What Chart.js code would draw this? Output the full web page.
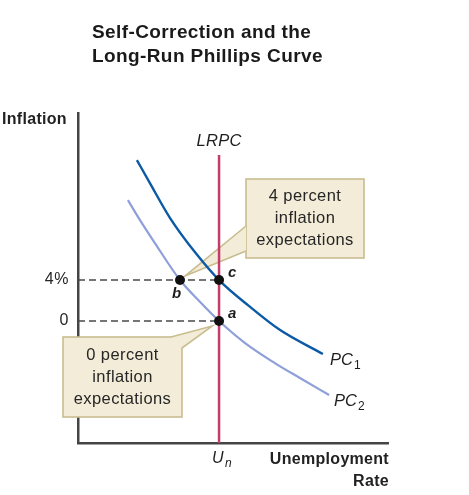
<!DOCTYPE html>
<html>
<head>
<meta charset="utf-8">
<script src="https://cdn.jsdelivr.net/npm/chart.js@4.4.1/dist/chart.umd.min.js"></script>
<style>
  html, body { margin: 0; padding: 0; background: #ffffff; }
  #wrap { position: relative; width: 469px; height: 495px; }
</style>
</head>
<body>
<div id="wrap"><canvas id="c" width="469" height="495"></canvas></div>
<script>
// ---- Data (x: unemployment rate index, y: inflation %) ----
const pc1X = [1.90, 2.32, 2.97, 3.77, 4.55, 5.52, 6.52, 7.90];
const pc1Y = [15.71, 13.46, 10.05, 6.73, 4.00, 1.46, -0.88, -3.22];
const pc2X = [1.61, 2.00, 2.48, 3.29, 3.94, 4.55, 5.39, 6.35, 7.16, 8.10];
const pc2Y = [11.80, 9.85, 7.61, 4.00, 1.85, 0.00, -2.15, -4.10, -5.56, -7.22];
const naturalRate = 4.55;          // U_n
const lrpcTop = 16.2;
const xRange = [0, 10];
const yRange = [-11.9, 20.3];
const yTickValues = [0, 4];
const yTickLabels = ['0', '4%'];
const pointNames = ['b', 'c', 'a'];
const pointX = [3.29, 4.55, 4.55];
const pointY = [4, 4, 0];
const calloutTexts = [
  ['4 percent', 'inflation', 'expectations'],
  ['0 percent', 'inflation', 'expectations']
];
const titleLines = ['Self-Correction and the', 'Long-Run Phillips Curve'];

const zip = (xs, ys) => xs.map((x, i) => ({ x, y: ys[i] }));

const FONT = '"Liberation Sans", Arial, Helvetica, sans-serif';

const annotate = {
  id: 'annotate',
  beforeDatasetsDraw(chart) {
    const ctx = chart.ctx;
    const xs = chart.scales.x, ys = chart.scales.y;
    const px = v => xs.getPixelForValue(v);
    const py = v => ys.getPixelForValue(v);
    ctx.save();
    ctx.textBaseline = 'middle';
    const boxes = [
      { r: [246, 179, 364, 258], tip: [px(pointX[0]) + 5, py(pointY[0]) - 4], base: [[246, 226], [246, 251]], text: calloutTexts[0] },
      { r: [63, 337, 182, 417], tip: [px(pointX[2]) - 7, py(pointY[2]) + 5], base: [[171, 337], [182, 348]], text: calloutTexts[1] }
    ];
    boxes.forEach(b => {
      const [x0, y0, x1, y1] = b.r;
      ctx.fillStyle = '#f3ecd8';
      ctx.strokeStyle = '#c9bd8f';
      ctx.lineWidth = 1.6;
      ctx.fillRect(x0, y0, x1 - x0, y1 - y0);
      ctx.strokeRect(x0, y0, x1 - x0, y1 - y0);
      ctx.beginPath();
      ctx.moveTo(b.base[0][0], b.base[0][1]);
      ctx.lineTo(b.tip[0], b.tip[1]);
      ctx.lineTo(b.base[1][0], b.base[1][1]);
      ctx.closePath();
      ctx.fill();
      ctx.beginPath();
      ctx.moveTo(b.base[0][0], b.base[0][1]);
      ctx.lineTo(b.tip[0], b.tip[1]);
      ctx.lineTo(b.base[1][0], b.base[1][1]);
      ctx.stroke();
      ctx.fillStyle = '#262626';
      ctx.font = '16.5px ' + FONT;
      ctx.letterSpacing = '0.4px';
      ctx.textAlign = 'center';
      const cx = (x0 + x1) / 2, cy = (y0 + y1) / 2;
      b.text.forEach((t, i) => ctx.fillText(t, cx, cy + (i - 1) * 22));
    });
    ctx.restore();
  },
  afterDatasetsDraw(chart) {
    const ctx = chart.ctx;
    const xs = chart.scales.x, ys = chart.scales.y;
    const px = v => xs.getPixelForValue(v);
    const py = v => ys.getPixelForValue(v);
    ctx.save();
    ctx.textBaseline = 'middle';

    // point labels
    ctx.fillStyle = '#1e1e1e';
    ctx.font = 'italic bold 15px ' + FONT;
    ctx.letterSpacing = '0px';
    ctx.textAlign = 'left';
    const offs = [[-8, 14], [9, -7], [9, -7]];
    pointNames.forEach((n, i) => {
      ctx.fillText(n, px(pointX[i]) + offs[i][0], py(pointY[i]) + offs[i][1]);
    });

    // y tick labels
    ctx.font = '16px ' + FONT;
    ctx.letterSpacing = '0.6px';
    ctx.textAlign = 'right';
    ctx.fillStyle = '#262626';
    yTickValues.forEach((v, i) => ctx.fillText(yTickLabels[i], xs.left - 9, py(v)));

    // LRPC label
    ctx.font = 'italic 16.5px ' + FONT;
    ctx.letterSpacing = '0.3px';
    ctx.textAlign = 'center';
    ctx.fillStyle = '#1e1e1e';
    ctx.fillText('LRPC', px(naturalRate), 141);

    // U_n
    ctx.textAlign = 'left';
    ctx.font = 'italic 16px ' + FONT;
    ctx.letterSpacing = '0px';
    ctx.fillText('U', px(naturalRate) - 7, 459);
    ctx.font = 'italic 12px ' + FONT;
    ctx.fillText('n', px(naturalRate) + 6, 464);

    // PC labels
    ctx.font = 'italic 16.5px ' + FONT;
    ctx.fillText('PC', 330, 360);
    ctx.fillText('PC', 334, 401);
    ctx.font = '12px ' + FONT;
    ctx.fillText('1', 354, 366);
    ctx.fillText('2', 358, 407);

    // axis titles
    ctx.font = 'bold 16px ' + FONT;
    ctx.letterSpacing = '0.3px';
    ctx.fillStyle = '#222';
    ctx.textAlign = 'left';
    ctx.fillText('Inflation', 2, 120);
    ctx.textAlign = 'right';
    ctx.fillText('Unemployment', 389, 460);
    ctx.fillText('Rate', 389, 482);

    // title
    ctx.font = 'bold 19px ' + FONT;
    ctx.letterSpacing = '0.4px';
    ctx.fillStyle = '#1a1a1a';
    ctx.textAlign = 'left';
    ctx.fillText(titleLines[0], 92, 33);
    ctx.fillText(titleLines[1], 92, 57);
    ctx.restore();
  }
};

new Chart(document.getElementById('c'), {
  type: 'scatter',
  data: {
    datasets: [
      { data: [{ x: naturalRate, y: yRange[0] }, { x: naturalRate, y: lrpcTop }], showLine: true, borderColor: '#c23d6c', borderWidth: 2.5, pointRadius: 0, order: 5 },
      { data: [{ x: xRange[0], y: 4 }, { x: naturalRate, y: 4 }], showLine: true, borderColor: '#4a4a4a', borderWidth: 1.6, borderDash: [7, 4], pointRadius: 0, order: 4 },
      { data: [{ x: xRange[0], y: 0 }, { x: naturalRate, y: 0 }], showLine: true, borderColor: '#4a4a4a', borderWidth: 1.6, borderDash: [7, 4], pointRadius: 0, order: 4 },
      { data: zip(pc2X, pc2Y), showLine: true, borderColor: '#8f9fd9', borderWidth: 2.2, pointRadius: 0, cubicInterpolationMode: 'monotone', order: 3 },
      { data: zip(pc1X, pc1Y), showLine: true, borderColor: '#0c5aa6', borderWidth: 2.4, pointRadius: 0, cubicInterpolationMode: 'monotone', order: 2 },
      { data: zip(pointX, pointY), showLine: false, backgroundColor: '#111111', borderColor: '#111111', pointRadius: 5, pointBorderWidth: 0, order: 1 }
    ]
  },
  options: {
    responsive: false,
    animation: false,
    events: [],
    layout: { padding: { left: 78, right: 81, top: 113, bottom: 52 } },
    plugins: { legend: { display: false }, tooltip: { enabled: false }, title: { display: false } },
    scales: {
      x: {
        type: 'linear', min: xRange[0], max: xRange[1],
        ticks: { display: false },
        grid: { display: false, drawTicks: false },
        border: { display: true, color: '#454545', width: 2.5 },
        afterFit: s => { s.height = 0; }
      },
      y: {
        type: 'linear', min: yRange[0], max: yRange[1],
        ticks: { display: false },
        grid: { display: false, drawTicks: false },
        border: { display: true, color: '#454545', width: 2.5 },
        afterFit: s => { s.width = 0; }
      }
    }
  },
  plugins: [annotate]
});
</script>
</body>
</html>
